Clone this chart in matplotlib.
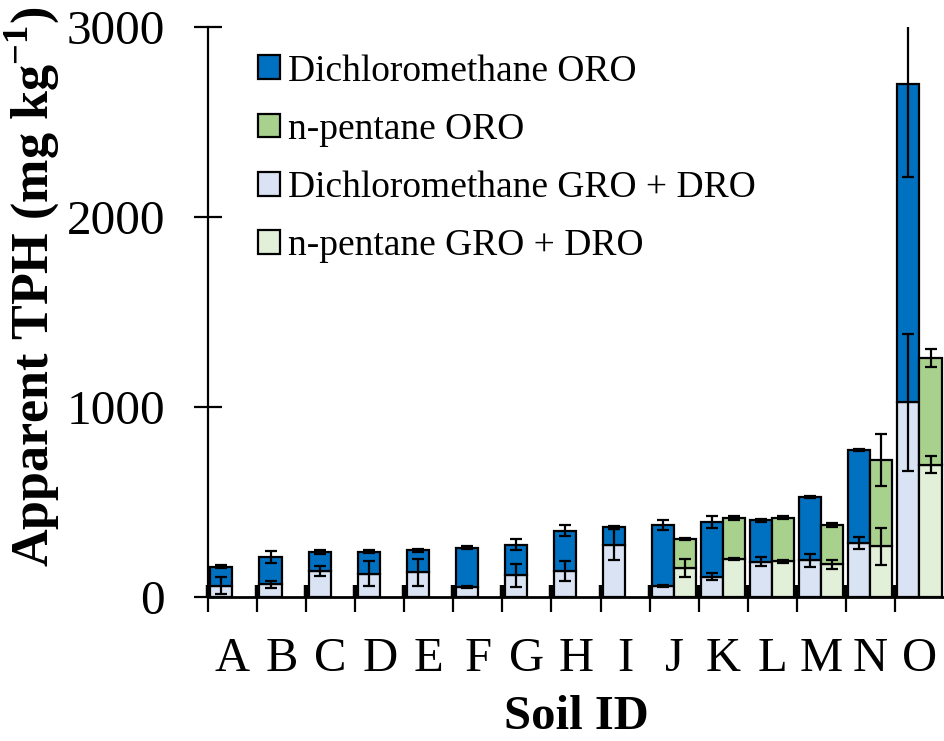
import numpy as np
import matplotlib
matplotlib.use('Agg')
import matplotlib.pyplot as plt

plt.rcParams['font.family'] = ['Liberation Serif', 'DejaVu Serif']
plt.rcParams['mathtext.fontset'] = 'custom'
plt.rcParams['mathtext.rm'] = 'Liberation Serif'
plt.rcParams['mathtext.bf'] = 'Liberation Serif:bold'

soils = ['A', 'B', 'C', 'D', 'E', 'F', 'G', 'H', 'I', 'J', 'K', 'L', 'M', 'N', 'O']

# dichloromethane extract (mg/kg): GRO+DRO part and ORO part stacked on top
dcm_gro = [60, 67, 137, 123, 130, 54, 114, 137, 275, 58, 107, 186, 193, 284, 1024]
dcm_gro_err = [43, 19, 26, 66, 72, 6, 60, 54, 82, 6, 18, 25, 35, 32, 360]
dcm_total = [160, 210, 235, 239, 247, 260, 275, 349, 366, 377, 395, 403, 528, 775, 2702]
dcm_total_err = [8, 32, 10, 6, 8, 8, 28, 28, 10, 26, 32, 10, 5, 5, 490]

# n-pentane extract, only measured for J-O
pen_gro = [np.nan] * 9 + [153, 200, 189, 172, 266, 696]
pen_gro_err = [np.nan] * 9 + [48, 5, 8, 23, 95, 45]
pen_total = [np.nan] * 9 + [307, 414, 416, 379, 719, 1258]
pen_total_err = [np.nan] * 9 + [5, 10, 8, 8, 137, 48]

x = np.arange(len(soils))
dcm_gro = np.array(dcm_gro)
dcm_oro = np.array(dcm_total) - dcm_gro
pen_gro = np.array(pen_gro)
pen_oro = np.array(pen_total) - pen_gro
has_pen = ~np.isnan(pen_gro)

fig = plt.figure(figsize=(9.44, 7.41), dpi=100)
ax = fig.add_axes([0.2203, 0.1943, 0.7797, 0.7693])

w = 0.45
ekw = dict(elinewidth=1.6, capthick=1.6, ecolor='black')
bkw = dict(width=w, edgecolor='black', linewidth=1.6, capsize=4.5, error_kw=ekw, zorder=2)

ax.bar(x - w / 2, dcm_gro, yerr=dcm_gro_err, color='#DAE3F3',
       label='Dichloromethane GRO + DRO', **bkw)
ax.bar(x - w / 2, dcm_oro, bottom=dcm_gro, yerr=dcm_total_err, color='#0070C0',
       label='Dichloromethane ORO', **bkw)
ax.bar(x[has_pen] + w / 2, pen_gro[has_pen], yerr=np.array(pen_gro_err)[has_pen],
       color='#E2F0D9', label='n-pentane GRO + DRO', **bkw)
ax.bar(x[has_pen] + w / 2, pen_oro[has_pen], bottom=pen_gro[has_pen],
       yerr=np.array(pen_total_err)[has_pen], color='#A9D18E',
       label='n-pentane ORO', **bkw)

ax.set_xlim(-0.5, len(soils) - 0.5)
ax.set_ylim(0, 3000)
ax.set_yticks([0, 1000, 2000, 3000])

# category boundaries carry the ticks, names sit in the middle
ax.set_xticks(np.arange(len(soils)) - 0.5)
ax.set_xticklabels([])
ax.set_xticks(x, minor=True)
ax.set_xticklabels(soils, minor=True)
ax.tick_params(axis='x', which='major', direction='out', length=11, width=1.6)
ax.tick_params(axis='x', which='minor', length=0, pad=29, labelsize=35)
ax.tick_params(axis='y', direction='inout', length=20, width=1.6, pad=21, labelsize=35.5)

sec = ax.secondary_xaxis('bottom')
sec.set_xticks(np.arange(len(soils)) - 0.5)
sec.set_xticklabels([])
sec.tick_params(direction='in', length=9, width=3.2)
sec.spines['bottom'].set_visible(False)

for s in ['top', 'right']:
    ax.spines[s].set_visible(False)
ax.spines['left'].set_linewidth(1.6)
ax.spines['bottom'].set_linewidth(2.0)

ax.set_ylabel('Apparent TPH (mg kg$^{\\mathbf{-1}}$)', fontsize=37.5, fontweight='bold')
ax.yaxis.set_label_coords(-0.199, 0.545)
ax.set_xlabel('Soil ID', fontsize=35, fontweight='bold')
ax.xaxis.set_label_coords(0.5, -0.171)

h, l = ax.get_legend_handles_labels()
order = [1, 3, 0, 2]
ax.legend([h[i] for i in order], [l[i] for i in order], loc='upper left',
          bbox_to_anchor=(0.2733, 0.927), bbox_transform=fig.transFigure,
          frameon=False, fontsize=27, handlelength=0.6, handleheight=0.6,
          handletextpad=0.2, labelspacing=0.63, borderpad=0, borderaxespad=0)

fig.savefig('out.png', dpi=100)
